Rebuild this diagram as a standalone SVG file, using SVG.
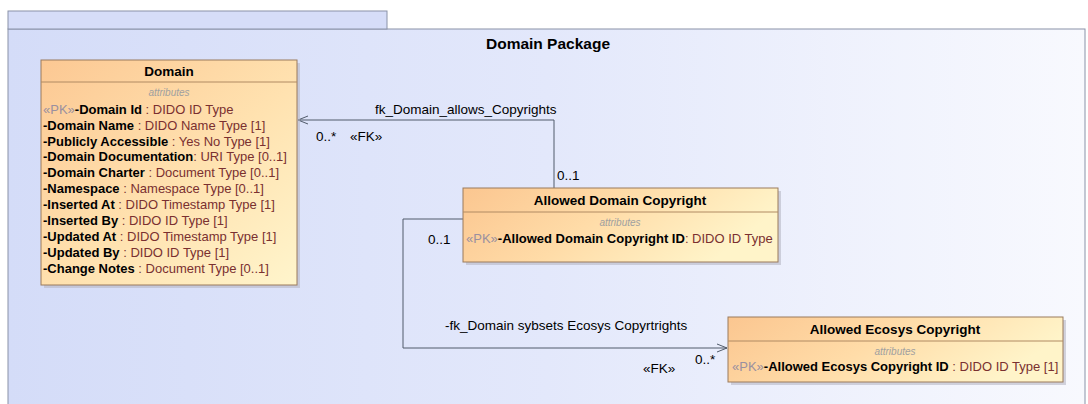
<svg xmlns="http://www.w3.org/2000/svg" width="1088" height="404" viewBox="0 0 1088 404">
<defs>
<linearGradient id="pkg" x1="0" y1="0" x2="1" y2="0">
<stop offset="0" stop-color="#d4dcf8"/>
<stop offset="0.5" stop-color="#e3e8fb"/>
<stop offset="1" stop-color="#f8f9fe"/>
</linearGradient>
<linearGradient id="cls" x1="0" y1="0" x2="1" y2="1">
<stop offset="0" stop-color="#fcc893"/>
<stop offset="0.55" stop-color="#ffe2b0"/>
<stop offset="1" stop-color="#fff5cc"/>
</linearGradient>
<linearGradient id="clsw" x1="0" y1="0" x2="1" y2="0.3">
<stop offset="0" stop-color="#fbc690"/>
<stop offset="0.5" stop-color="#ffdca8"/>
<stop offset="1" stop-color="#fff4c9"/>
</linearGradient>
<marker id="open" viewBox="0 0 10 10" refX="10" refY="5" markerWidth="10" markerHeight="10" markerUnits="userSpaceOnUse" orient="auto">
<path d="M0,1 L10,5 L0,9" fill="none" stroke="#505a6a" stroke-width="1"/>
</marker>
</defs>
<style>
text{font-family:"Liberation Sans",Arial,sans-serif;}
.title{font-size:13.5px;font-weight:bold;fill:#000;text-anchor:middle;}
.ptitle{font-size:15.5px;font-weight:bold;fill:#000;text-anchor:middle;}
.attrh{font-size:10px;font-style:italic;fill:#a0a0a0;text-anchor:middle;}
.attr{font-size:13px;fill:#000;}
.nm{font-weight:bold;}
.ty{fill:#7a3030;}
.st{fill:#9a90a0;}
.lbl{font-size:13.5px;fill:#000;}
.box{stroke:#9a7b5c;stroke-width:1;}
.shadow{fill:#b8b8c4;opacity:0.6;}
.sep{stroke:#b08a62;stroke-width:1;}
.conn{fill:none;stroke:#505a6a;stroke-width:1;}
</style>
<g id="package">
<rect x="8" y="29" width="1077" height="380" fill="url(#pkg)" stroke="#8a92a8" stroke-width="1"/>
<rect x="8" y="11" width="379" height="18" fill="#d6ddf8" stroke="#8a92a8" stroke-width="1"/>
<text class="ptitle" x="548" y="49">Domain Package</text>
</g>
<g id="connectors">
<polyline class="conn" points="554,188 554,120 298,120" marker-end="url(#open)"/>
<text class="lbl" x="375" y="114">fk_Domain_allows_Copyrights</text>
<text class="lbl" x="316" y="141">0..*</text>
<text class="lbl" x="350" y="141">«FK»</text>
<text class="lbl" x="557" y="180">0..1</text>
<polyline class="conn" points="463,219 403,219 403,348 727,348" marker-end="url(#open)"/>
<text class="lbl" x="445" y="330">-fk_Domain sybsets Ecosys Copyrtrights</text>
<text class="lbl" x="428" y="244">0..1</text>
<text class="lbl" x="695" y="364">0..*</text>
<text class="lbl" x="643" y="373">«FK»</text>
</g>
<g id="domain">
<rect class="shadow" x="44" y="63" width="256" height="225"/>
<rect class="box" x="41" y="60" width="256" height="225" fill="url(#cls)"/>
<line class="sep" x1="41" y1="82" x2="297" y2="82"/>
<text class="title" x="169" y="76">Domain</text>
<text class="attrh" x="169" y="96">attributes</text>
<text class="attr" x="43" y="114"><tspan class="st">«PK»</tspan><tspan class="nm">-Domain Id</tspan><tspan class="ty"> : DIDO ID Type</tspan></text>
<text class="attr" x="43" y="130"><tspan class="nm">-Domain Name</tspan><tspan class="ty"> : DIDO Name Type [1]</tspan></text>
<text class="attr" x="43" y="146"><tspan class="nm">-Publicly Accessible</tspan><tspan class="ty"> : Yes No Type [1]</tspan></text>
<text class="attr" x="43" y="161"><tspan class="nm">-Domain Documentation</tspan><tspan class="ty">: URI Type [0..1]</tspan></text>
<text class="attr" x="43" y="177"><tspan class="nm">-Domain Charter</tspan><tspan class="ty"> : Document Type [0..1]</tspan></text>
<text class="attr" x="43" y="193"><tspan class="nm">-Namespace</tspan><tspan class="ty"> : Namespace Type [0..1]</tspan></text>
<text class="attr" x="43" y="209"><tspan class="nm">-Inserted At</tspan><tspan class="ty"> : DIDO Timestamp Type [1]</tspan></text>
<text class="attr" x="43" y="225"><tspan class="nm">-Inserted By</tspan><tspan class="ty"> : DIDO ID Type [1]</tspan></text>
<text class="attr" x="43" y="241"><tspan class="nm">-Updated At</tspan><tspan class="ty"> : DIDO Timestamp Type [1]</tspan></text>
<text class="attr" x="43" y="257"><tspan class="nm">-Updated By</tspan><tspan class="ty"> : DIDO ID Type [1]</tspan></text>
<text class="attr" x="43" y="273"><tspan class="nm">-Change Notes</tspan><tspan class="ty"> : Document Type [0..1]</tspan></text>
</g>
<g id="allowed-domain-copyright">
<rect class="shadow" x="466" y="191" width="315" height="74"/>
<rect class="box" x="463" y="188" width="315" height="74" fill="url(#clsw)"/>
<line class="sep" x1="463" y1="212" x2="778" y2="212"/>
<text class="title" x="620" y="205">Allowed Domain Copyright</text>
<text class="attrh" x="620" y="226">attributes</text>
<text class="attr" x="466" y="243"><tspan class="st">«PK»</tspan><tspan class="nm">-Allowed Domain Copyright ID</tspan><tspan class="ty">: DIDO ID Type</tspan></text>
</g>
<g id="allowed-ecosys-copyright">
<rect class="shadow" x="731" y="320" width="335" height="65"/>
<rect class="box" x="728" y="317" width="335" height="65" fill="url(#clsw)"/>
<line class="sep" x1="728" y1="341" x2="1063" y2="341"/>
<text class="title" x="895" y="334">Allowed Ecosys Copyright</text>
<text class="attrh" x="895" y="355">attributes</text>
<text class="attr" x="732" y="371"><tspan class="st">«PK»</tspan><tspan class="nm">-Allowed Ecosys Copyright ID</tspan><tspan class="ty"> : DIDO ID Type [1]</tspan></text>
</g>
</svg>
